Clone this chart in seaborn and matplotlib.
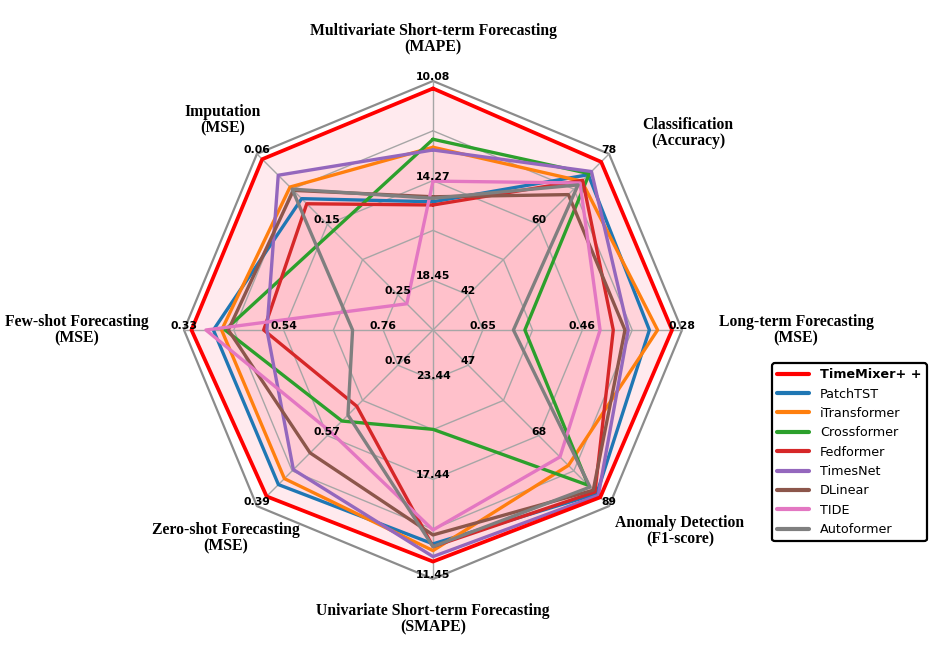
import numpy as np
import matplotlib
matplotlib.use("Agg")
import matplotlib.pyplot as plt
import matplotlib.transforms as mtransforms
import seaborn as sns

# ---------------- data ----------------
tasks = [
    "Multivariate Short-term Forecasting\n(MAPE)",
    "Classification\n(Accuracy)",
    "Long-term Forecasting\n(MSE)",
    "Anomaly Detection\n(F1-score)",
    "Univariate Short-term Forecasting\n(SMAPE)",
    "Zero-shot Forecasting\n(MSE)",
    "Few-shot Forecasting\n(MSE)",
    "Imputation\n(MSE)",
]
# tick labels shown on each axis at radial levels 1.0, 0.6, 0.2
ticks_outer = ["10.08", "78", "0.28", "89", "11.45", "0.39", "0.33", "0.06"]
ticks_mid = ["14.27", "60", "0.46", "68", "17.44", "0.57", "0.54", "0.15"]
ticks_inner = ["18.45", "42", "0.65", "47", "23.44", "0.76", "0.76", "0.25"]

models = ["TimeMixer+ +", "PatchTST", "iTransformer", "Crossformer", "Fedformer",
          "TimesNet", "DLinear", "TIDE", "Autoformer"]

# normalised scores per task (same order as tasks)
timemixer_pp = [0.970, 0.955, 0.960, 0.950, 0.930, 0.945, 0.970, 0.970]
patchtst     = [0.515, 0.882, 0.869, 0.930, 0.859, 0.878, 0.882, 0.746]
itransformer = [0.734, 0.845, 0.902, 0.769, 0.886, 0.844, 0.849, 0.812]
crossformer  = [0.766, 0.888, 0.369, 0.882, 0.399, 0.517, 0.835, 0.565]
fedformer    = [0.502, 0.850, 0.724, 0.920, 0.870, 0.433, 0.680, 0.717]
timesnet     = [0.723, 0.900, 0.784, 0.939, 0.910, 0.793, 0.667, 0.879]
dlinear      = [0.535, 0.769, 0.771, 0.910, 0.823, 0.698, 0.822, 0.793]
tide         = [0.598, 0.835, 0.671, 0.721, 0.803, 0.580, 0.912, 0.149]
autoformer   = [0.529, 0.824, 0.323, 0.892, 0.870, 0.483, 0.323, 0.800]

series = [timemixer_pp, patchtst, itransformer, crossformer, fedformer,
          timesnet, dlinear, tide, autoformer]

# ---------------- style ----------------
sns.set_style("white")
plt.rcParams["font.family"] = ["DejaVu Sans"]
plt.rcParams["text.color"] = "black"
tab = sns.color_palette("tab10")
colors = ["#ff0000", tab[0], tab[1], tab[2], tab[3], tab[4], tab[5], tab[6], tab[7]]

W, H = 947, 653
fig = plt.figure(figsize=(W / 100, H / 100), dpi=100)
cx, cy, R = 433, 330, 249
ax = fig.add_axes([(cx - R) / W, (H - cy - R) / H, 2 * R / W, 2 * R / H], polar=True)
ax.set_theta_offset(np.pi / 2)
ax.set_theta_direction(-1)
ax.set_ylim(0, 1)
ax.grid(False)
ax.spines["polar"].set_visible(False)
ax.patch.set_visible(False)
ax.set_xticks([])
ax.set_yticks([])

n = len(tasks)
theta = np.linspace(0, 2 * np.pi, n, endpoint=False)
theta_c = np.append(theta, theta[0])

# fills
for vals in series:
    v = np.append(vals, vals[0])
    ax.fill(theta_c, v, color="pink", alpha=0.32, lw=0, zorder=1)

# grid
for lvl in [0.2, 0.4, 0.6, 0.8]:
    ax.plot(theta_c, [lvl] * (n + 1), color="#a6a6a6", lw=1.0, zorder=2, clip_on=False)
ax.plot(theta_c, [1.0] * (n + 1), color="#8c8c8c", lw=1.6, zorder=2, clip_on=False)
for t in theta:
    ax.plot([t, t], [0, 1], color="#a6a6a6", lw=1.0, zorder=2, clip_on=False)

# model lines (TimeMixer++ on top)
order = list(range(1, len(series))) + [0]
for i in order:
    v = np.append(series[i], series[i][0])
    ax.plot(theta_c, v, color=colors[i], lw=2.7 if i == 0 else 2.4,
            label=models[i], zorder=4 if i == 0 else 3, clip_on=False)

# tick labels
off = mtransforms.offset_copy(ax.transData, fig=fig, x=0, y=4, units="dots")
for j, t in enumerate(theta):
    for lvl, lab in [(1.0, ticks_outer[j]), (0.6, ticks_mid[j]), (0.2, ticks_inner[j])]:
        ax.text(t, lvl, lab, transform=off, ha="center", va="center",
                fontsize=7.8, fontweight="bold", color="black", zorder=10)

# task titles
title_px = [(433, 39), (688, 133), (796, 330), (680, 531),
            (433, 619), (226, 538), (77, 330), (223, 120)]
for (px, py), name in zip(title_px, tasks):
    fig.text(px / W, 1 - py / H, name, ha="center", va="center", color="black",
             fontfamily="Liberation Serif", fontweight="bold", fontsize=11.3,
             linespacing=1.08)

# legend
handles, labels = ax.get_legend_handles_labels()
hmap = dict(zip(labels, handles))
leg = fig.legend([hmap[m] for m in models], models, loc="upper left",
                 bbox_to_anchor=(772 / W, 1 - 363 / H), borderaxespad=0,
                 fontsize=9.2, handlelength=2.5, handletextpad=0.85,
                 frameon=True, fancybox=True, labelcolor="black",
                 framealpha=1, edgecolor="black")
leg.get_frame().set_linewidth(1.6)
for line in leg.get_lines():
    line.set_linewidth(3)
leg.get_texts()[0].set_fontweight("bold")

fig.savefig("out.png", dpi=100)
